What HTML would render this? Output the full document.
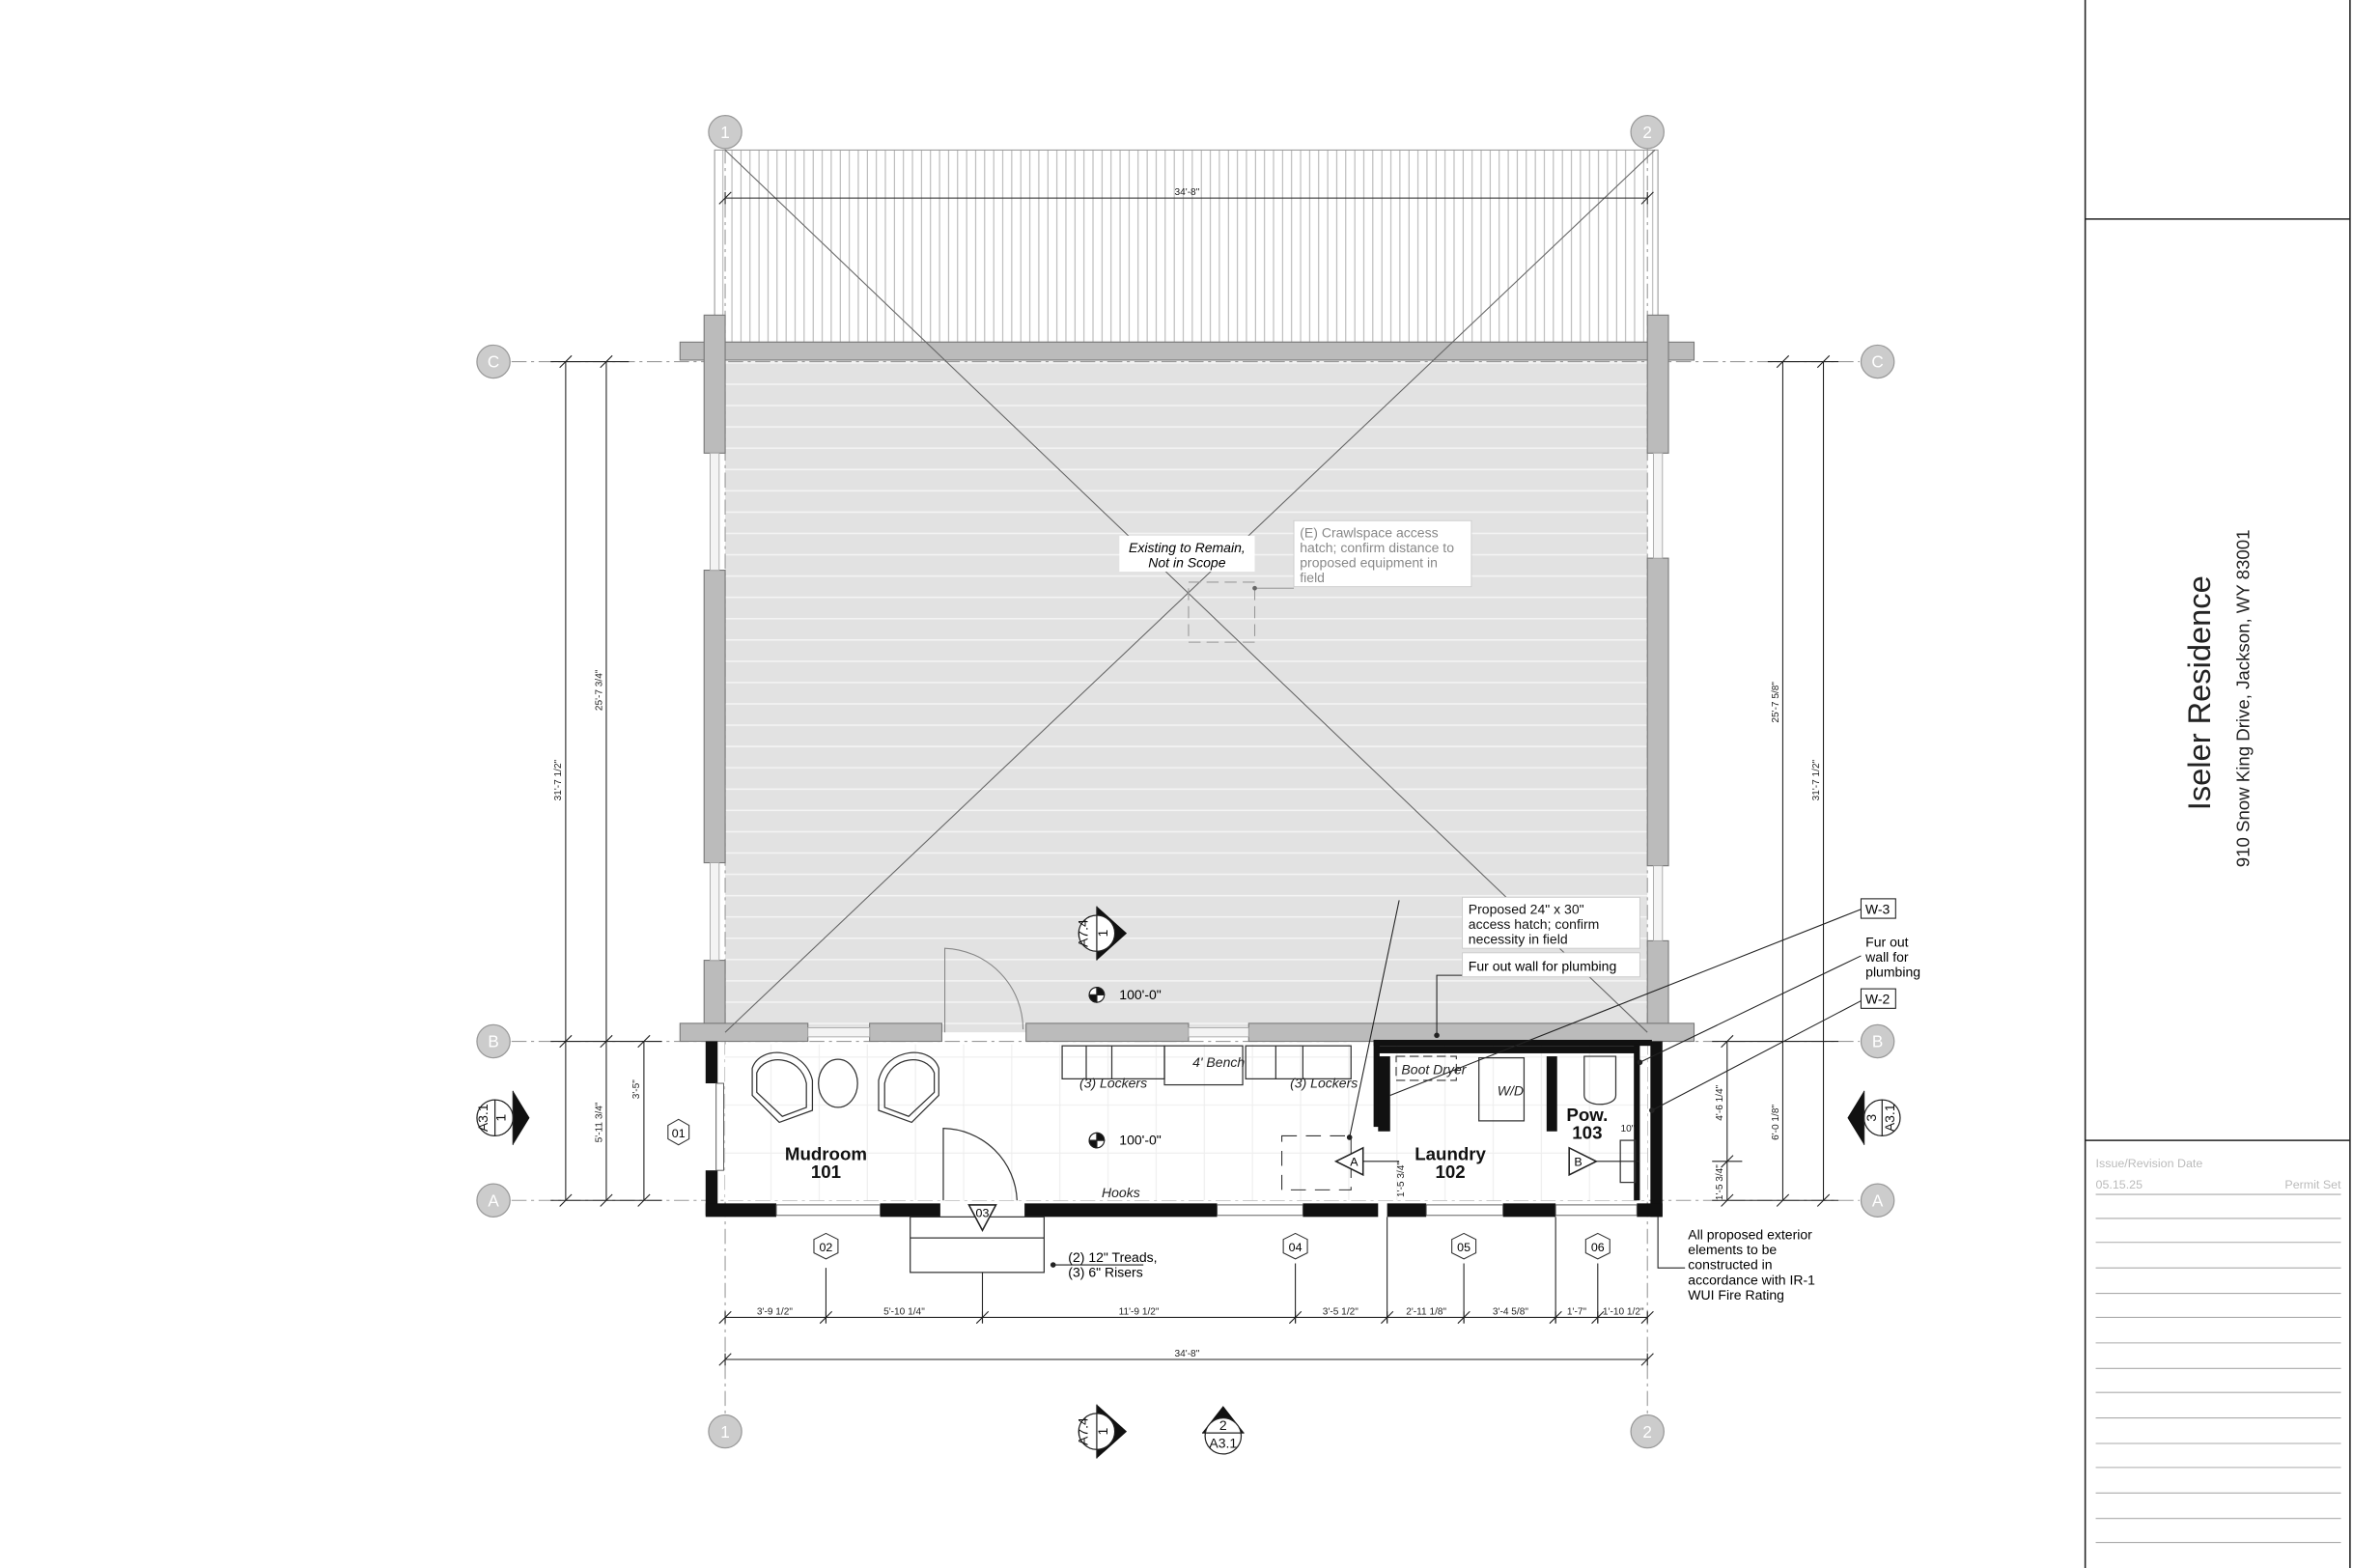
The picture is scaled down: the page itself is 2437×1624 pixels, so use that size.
<!DOCTYPE html>
<html><head><meta charset="utf-8"><style>
html,body{margin:0;padding:0;background:#fff;}
svg{display:block;}
text{font-family:"Liberation Sans",sans-serif;}
</style></head><body>
<svg width="2437" height="1624" viewBox="0 0 1564 1045" preserveAspectRatio="none" xmlns="http://www.w3.org/2000/svg">
<defs>
<pattern id="vh" width="6" height="10" patternUnits="userSpaceOnUse"><line x1="0.5" y1="0" x2="0.5" y2="10" stroke="#aaa" stroke-width="0.6"/></pattern>
<pattern id="hh" width="10" height="14.2" patternUnits="userSpaceOnUse"><rect width="10" height="14.2" fill="#e2e2e2"/><line x1="0" y1="0.5" x2="10" y2="0.5" stroke="#f4f4f4" stroke-width="1"/></pattern>
<pattern id="tile" width="32" height="32" patternUnits="userSpaceOnUse"><rect width="32" height="32" fill="#fff"/><path d="M0 .5H32M.5 0V32" stroke="#eee" stroke-width="0.7"/></pattern>
</defs>
<rect width="1564" height="1045" fill="#fff"/>
<!-- title block -->
<line x1="1386" y1="0" x2="1386" y2="1045" stroke="#222" stroke-width="1"/>
<line x1="1562" y1="0" x2="1562" y2="1045" stroke="#222" stroke-width="1"/>
<line x1="1386" y1="146" x2="1562" y2="146" stroke="#222" stroke-width="1"/>
<line x1="1386" y1="760" x2="1562" y2="760" stroke="#222" stroke-width="1"/>
<text transform="translate(1469,540) rotate(-90)" font-size="21" fill="#222">Iseler Residence</text>
<text transform="translate(1495,578) rotate(-90)" font-size="12" fill="#222">910 Snow King Drive, Jackson, WY 83001</text>
<text x="1393" y="778" font-size="8" fill="#bbb">Issue/Revision Date</text>
<text x="1393" y="792" font-size="8" fill="#bbb">05.15.25</text>
<text x="1556" y="792" font-size="8" fill="#bbb" text-anchor="end">Permit Set</text>
<g stroke="#aaa" stroke-width="0.7">
<line x1="1393" y1="796" x2="1556" y2="796"/><line x1="1393" y1="812" x2="1556" y2="812"/><line x1="1393" y1="828" x2="1556" y2="828"/><line x1="1393" y1="845" x2="1556" y2="845"/><line x1="1393" y1="862" x2="1556" y2="862"/><line x1="1393" y1="878" x2="1556" y2="878"/><line x1="1393" y1="895" x2="1556" y2="895"/><line x1="1393" y1="912" x2="1556" y2="912"/><line x1="1393" y1="928" x2="1556" y2="928"/><line x1="1393" y1="945" x2="1556" y2="945"/><line x1="1393" y1="962" x2="1556" y2="962"/><line x1="1393" y1="978" x2="1556" y2="978"/><line x1="1393" y1="995" x2="1556" y2="995"/><line x1="1393" y1="1012" x2="1556" y2="1012"/><line x1="1393" y1="1028" x2="1556" y2="1028"/>
</g>

<!-- deck -->
<rect x="475" y="100" width="627" height="128" fill="url(#vh)" stroke="#999" stroke-width="0.7"/>
<!-- existing house -->
<rect x="482" y="241" width="613" height="447" fill="url(#hh)"/>
<!-- grid lines -->
<g stroke="#999" stroke-width="0.7" stroke-dasharray="10,3,2,3">
<line x1="482" y1="99" x2="482" y2="942"/><line x1="1095" y1="99" x2="1095" y2="942"/>
<line x1="340" y1="241" x2="1236" y2="241"/><line x1="340" y1="694" x2="1236" y2="694"/><line x1="340" y1="800" x2="1236" y2="800"/>
</g>
<!-- walls existing -->
<g fill="#bbb" stroke="#777" stroke-width="0.7">
<rect x="452" y="228" width="674" height="12"/>
<rect x="468" y="210" width="14" height="92"/><rect x="1095" y="210" width="14" height="92"/>
<rect x="468" y="380" width="14" height="195"/><rect x="1095" y="372" width="14" height="205"/>
<rect x="468" y="640" width="14" height="50"/><rect x="1095" y="627" width="14" height="63"/>
<rect x="452" y="682" width="85" height="12"/><rect x="578" y="682" width="48" height="12"/>
<rect x="682" y="682" width="108" height="12"/><rect x="830" y="682" width="296" height="12"/>
</g>
<g fill="#f3f3f3" stroke="#aaa" stroke-width="0.6">
<rect x="472" y="302" width="6" height="78"/><rect x="1099" y="302" width="6" height="70"/>
<rect x="472" y="575" width="6" height="65"/><rect x="1099" y="577" width="6" height="50"/>
<rect x="537" y="685" width="41" height="6"/><rect x="790" y="685" width="40" height="6"/>
</g>
<!-- diagonals -->
<g stroke="#666" stroke-width="0.7">
<line x1="482" y1="100" x2="1095" y2="688"/><line x1="1100" y1="100" x2="482" y2="688"/>
</g>
<!-- door in existing -->
<path d="M628 688V632A54 54 0 0 1 680 686" fill="none" stroke="#888" stroke-width="0.7"/>
<!-- crawlspace hatch -->
<rect x="790" y="388" width="44" height="40" fill="none" stroke="#999" stroke-width="0.7" stroke-dasharray="8,4"/>
<line x1="834" y1="392" x2="860" y2="392" stroke="#888" stroke-width="0.6"/>
<circle cx="834" cy="392" r="1.5" fill="#666"/>
<rect x="744" y="357" width="90" height="24" fill="#fff"/>
<text x="789" y="368" font-size="9" font-style="italic" text-anchor="middle">Existing to Remain,</text>
<text x="789" y="378" font-size="9" font-style="italic" text-anchor="middle">Not in Scope</text>
<rect x="860" y="347" width="118" height="44" fill="#fff" stroke="#ccc" stroke-width="0.6"/>
<g font-size="9" fill="#888"><text x="864" y="358">(E) Crawlspace access</text><text x="864" y="368">hatch; confirm distance to</text><text x="864" y="378">proposed equipment in</text><text x="864" y="388">field</text></g>

<!-- grid bubbles -->
<g fill="#ccc" stroke="#999" stroke-width="0.8">
<circle cx="482" cy="88" r="11"/><circle cx="1095" cy="88" r="11"/><circle cx="482" cy="954" r="11"/><circle cx="1095" cy="954" r="11"/>
<circle cx="328" cy="241" r="11"/><circle cx="328" cy="694" r="11"/><circle cx="328" cy="800" r="11"/>
<circle cx="1248" cy="241" r="11"/><circle cx="1248" cy="694" r="11"/><circle cx="1248" cy="800" r="11"/>
</g>
<g font-size="11" fill="#fff" text-anchor="middle">
<text x="482" y="92">1</text><text x="1095" y="92">2</text><text x="482" y="958">1</text><text x="1095" y="958">2</text>
<text x="328" y="245">C</text><text x="328" y="698">B</text><text x="328" y="804">A</text>
<text x="1248" y="245">C</text><text x="1248" y="698">B</text><text x="1248" y="804">A</text>
</g>

<!-- addition floor -->
<rect x="482" y="696" width="613" height="104" fill="url(#tile)"/>
<!-- addition walls -->
<g fill="#111">
<rect x="469" y="694" width="8" height="28"/><rect x="469" y="780" width="8" height="30"/>
<rect x="469" y="802" width="47" height="9"/><rect x="585" y="802" width="40" height="9"/>
<rect x="681" y="802" width="128" height="9"/><rect x="866" y="802" width="50" height="9"/>
<rect x="922" y="802" width="26" height="9"/><rect x="999" y="802" width="35" height="9"/>
<rect x="1097" y="694" width="8" height="117"/><rect x="1088" y="802" width="17" height="9"/>
<rect x="913" y="693" width="185" height="4"/><rect x="913" y="693" width="4" height="58"/>
<rect x="1086" y="696" width="4" height="104"/>
<rect x="916" y="704" width="8" height="50"/><rect x="1028" y="704" width="7" height="50"/>
<rect x="916" y="697" width="172" height="5"/>
</g>
<g fill="#fff" stroke="#555" stroke-width="0.6">
<rect x="476" y="722" width="5" height="58"/>
<rect x="516" y="803" width="69" height="7"/><rect x="809" y="803" width="57" height="7"/>
<rect x="948" y="803" width="51" height="7"/><rect x="1034" y="803" width="54" height="7"/>
</g>
<!-- furniture -->
<g fill="none" stroke="#333" stroke-width="0.8">
<path d="M500 712C505 696 535 698 540 720L540 740L518 748L500 730Z"/>
<path d="M503 715C508 702 532 703 536 722L536 738L520 744L503 728Z"/>
<ellipse cx="557" cy="722" rx="13" ry="16"/>
<path d="M624 712C619 696 589 698 584 720L584 740L606 748L624 730Z"/>
<path d="M621 715C616 702 592 703 588 722L588 738L604 744L621 728Z"/>
<rect x="706" y="697" width="68" height="22"/><line x1="722" y1="697" x2="722" y2="719"/><line x1="739" y1="697" x2="739" y2="719"/>
<rect x="774" y="697" width="52" height="26"/>
<rect x="828" y="697" width="70" height="22"/><line x1="848" y1="697" x2="848" y2="719"/><line x1="866" y1="697" x2="866" y2="719"/>
<rect x="983" y="705" width="30" height="42"/>
<path d="M1053 704H1074V730C1074 738 1053 738 1053 730Z"/>
<rect x="1077" y="760" width="10" height="28"/>
<path d="M627 800V752A50 50 0 0 1 676 800"/>
<rect x="605" y="811" width="89" height="37"/><line x1="605" y1="825" x2="694" y2="825"/>
</g>
<rect x="928" y="704" width="40" height="16" fill="none" stroke="#333" stroke-width="0.7" stroke-dasharray="6,3"/>
<rect x="852" y="757" width="46" height="36" fill="none" stroke="#333" stroke-width="0.7" stroke-dasharray="10,6"/>
<g font-size="9" font-style="italic" fill="#222" text-anchor="middle">
<text x="740" y="725">(3) Lockers</text><text x="810" y="711">4' Bench</text><text x="880" y="725">(3) Lockers</text>
<text x="953" y="716">Boot Dryer</text><text x="1004" y="730">W/D</text><text x="745" y="798">Hooks</text>
</g>
<g font-size="12" font-weight="bold" fill="#111" text-anchor="middle">
<text x="549" y="773">Mudroom</text><text x="549" y="785">101</text>
<text x="964" y="773">Laundry</text><text x="964" y="785">102</text>
<text x="1055" y="747">Pow.</text><text x="1055" y="759">103</text>
</g>
<!-- elevation markers -->
<g stroke="#222" stroke-width="0.8">
<circle cx="729" cy="663" r="5" fill="#fff"/><path d="M729 658A5 5 0 0 1 734 663H729Z M729 668A5 5 0 0 1 724 663H729Z" fill="#111"/>
<circle cx="729" cy="760" r="5" fill="#fff"/><path d="M729 755A5 5 0 0 1 734 760H729Z M729 765A5 5 0 0 1 724 760H729Z" fill="#111"/>
</g>
<text x="744" y="666" font-size="9">100'-0"</text><text x="744" y="763" font-size="9">100'-0"</text>
<!-- section markers -->
<g fill="#fff" stroke="#222" stroke-width="1">
<path d="M888 774L906 765V783Z"/><path d="M1061 774L1043 765V783Z"/>
<path d="M644 803H662L653 820Z"/>
</g>
<g font-size="8" text-anchor="middle"><text x="900" y="777">A</text><text x="1049" y="777">B</text><text x="653" y="811">03</text></g>
<line x1="906" y1="774" x2="930" y2="774" stroke="#222" stroke-width="0.7"/>
<line x1="1061" y1="774" x2="1090" y2="774" stroke="#222" stroke-width="0.7"/>
<!-- section bubbles: triangle under circle -->
<g fill="#111">
<path d="M729 604L749 622L729 640Z"/>
<path d="M729 936L749 954L729 972Z"/>
<path d="M341 727L352 745L341 763Z"/>
<path d="M1239 727L1228 745L1239 763Z"/>
<path d="M799 955L813 937L827 955Z"/>
</g>
<g fill="#fff" stroke="#222" stroke-width="0.8">
<circle cx="729" cy="622" r="12"/><circle cx="729" cy="954" r="12"/>
<circle cx="329" cy="745" r="12"/><circle cx="1251" cy="745" r="12"/>
<circle cx="813" cy="957" r="12"/>
</g>
<g stroke="#222" stroke-width="0.8">
<line x1="729" y1="604" x2="729" y2="640"/><line x1="729" y1="936" x2="729" y2="972"/>
<line x1="341" y1="727" x2="341" y2="763"/><line x1="1239" y1="727" x2="1239" y2="763"/>
<line x1="329" y1="733" x2="329" y2="757"/><line x1="1251" y1="733" x2="1251" y2="757"/>
<line x1="799" y1="955" x2="827" y2="955"/>
</g>
<g font-size="9" fill="#111" text-anchor="middle">
<text transform="translate(723,622) rotate(-90)">A7.4</text><text transform="translate(736,622) rotate(-90)">1</text>
<text transform="translate(723,954) rotate(-90)">A7.4</text><text transform="translate(736,954) rotate(-90)">1</text>
<text transform="translate(324,745) rotate(-90)">A3.1</text><text transform="translate(336,745) rotate(-90)">1</text>
<text transform="translate(1259,745) rotate(-90)">A3.1</text><text transform="translate(1247,745) rotate(-90)">3</text>
<text x="813" y="953">2</text><text x="813" y="965">A3.1</text>
</g>
<!-- window hex tags -->
<g fill="#fff" stroke="#333" stroke-width="0.7">
<path d="M451 746l7 4v9l-7 4l-7-4v-9z"/><path d="M549 822l8 4v9l-8 4l-8-4v-9z"/>
<path d="M861 822l8 4v9l-8 4l-8-4v-9z"/><path d="M973 822l8 4v9l-8 4l-8-4v-9z"/><path d="M1062 822l8 4v9l-8 4l-8-4v-9z"/>
</g>
<g font-size="8" text-anchor="middle"><text x="451" y="758">01</text><text x="549" y="834">02</text><text x="861" y="834">04</text><text x="973" y="834">05</text><text x="1062" y="834">06</text></g>
<!-- dimensions -->
<g stroke="#222" stroke-width="0.7">
<line x1="482" y1="132" x2="1095" y2="132"/><line x1="482" y1="906" x2="1095" y2="906"/>
<line x1="482" y1="878" x2="1095" y2="878"/>
<line x1="376" y1="241" x2="376" y2="800"/><line x1="403" y1="241" x2="403" y2="800"/><line x1="428" y1="694" x2="428" y2="800"/>
<line x1="1185" y1="241" x2="1185" y2="800"/><line x1="1212" y1="241" x2="1212" y2="800"/><line x1="1148" y1="694" x2="1148" y2="800"/>
<line x1="366" y1="241" x2="418" y2="241"/><line x1="366" y1="694" x2="440" y2="694"/><line x1="366" y1="800" x2="440" y2="800"/>
<line x1="1138" y1="694" x2="1222" y2="694"/><line x1="1138" y1="800" x2="1222" y2="800"/><line x1="1175" y1="241" x2="1222" y2="241"/><line x1="1138" y1="774" x2="1158" y2="774"/>
<path d="M482 128v8M1095 128v8M482 902v8M1095 902v8M482 874v8M549 874v8M653 874v8M861 874v8M922 874v8M973 874v8M1034 874v8M1062 874v8M1095 874v8"/>
<path d="M549 845v37M653 848v34M861 842v40M922 811v71M973 842v40M1034 811v71M1062 842v40"/>
<path d="M478 136l8-8M1091 136l8-8M478 910l8-8M1091 910l8-8M372 245l8-8M372 698l8-8M372 804l8-8M399 245l8-8M399 698l8-8M399 804l8-8M424 698l8-8M424 804l8-8M1181 245l8-8M1181 804l8-8M1208 245l8-8M1208 804l8-8M1144 698l8-8M1144 804l8-8M1144 778l8-8"/>
<path d="M478 882l8-8M545 882l8-8M649 882l8-8M857 882l8-8M918 882l8-8M969 882l8-8M1030 882l8-8M1058 882l8-8M1091 882l8-8"/>
</g>
<g font-size="6.5" fill="#222" text-anchor="middle">
<text x="789" y="130">34'-8"</text><text x="789" y="904">34'-8"</text>
<text x="515" y="876">3'-9 1/2"</text><text x="601" y="876">5'-10 1/4"</text><text x="757" y="876">11'-9 1/2"</text><text x="891" y="876">3'-5 1/2"</text><text x="948" y="876">2'-11 1/8"</text><text x="1004" y="876">3'-4 5/8"</text><text x="1048" y="876">1'-7"</text><text x="1079" y="876">1'-10 1/2"</text>
<text transform="translate(373,520) rotate(-90)">31'-7 1/2"</text><text transform="translate(400,460) rotate(-90)">25'-7 3/4"</text><text transform="translate(400,748) rotate(-90)">5'-11 3/4"</text><text transform="translate(425,726) rotate(-90)">3'-5"</text>
<text transform="translate(1182,468) rotate(-90)">25'-7 5/8"</text><text transform="translate(1209,520) rotate(-90)">31'-7 1/2"</text><text transform="translate(1182,748) rotate(-90)">6'-0 1/8"</text><text transform="translate(1145,735) rotate(-90)">4'-6 1/4"</text><text transform="translate(1145,788) rotate(-90)">1'-5 3/4"</text><text transform="translate(933,786) rotate(-90)">1'-5 3/4"</text>
<text x="1082" y="754">10"</text>
</g>
<!-- leaders & notes -->
<g stroke="#222" stroke-width="0.7" fill="none">
<path d="M897 758L930 600"/><path d="M955 690V650H972"/>
<path d="M924 730L1237 606"/><path d="M1090 708L1237 637"/><path d="M1098 740L1237 667"/>
<path d="M700 843H760"/><path d="M1102 811V845H1120"/>
</g>
<g fill="#222"><circle cx="897" cy="758" r="1.8"/><circle cx="955" cy="690" r="1.8"/><circle cx="700" cy="843" r="1.8"/><circle cx="1090" cy="708" r="1.8"/><circle cx="1098" cy="740" r="1.8"/></g>
<rect x="972" y="598" width="118" height="34" fill="#fff" stroke="#ccc" stroke-width="0.6"/>
<g font-size="9" fill="#111"><text x="976" y="609">Proposed 24" x 30"</text><text x="976" y="619">access hatch; confirm</text><text x="976" y="629">necessity in field</text></g>
<rect x="972" y="635" width="118" height="16" fill="#fff" stroke="#ccc" stroke-width="0.6"/>
<text x="976" y="647" font-size="9">Fur out wall for plumbing</text>
<rect x="1237" y="599" width="23" height="13" fill="#fff" stroke="#222" stroke-width="0.7"/><text x="1248" y="609" font-size="9" text-anchor="middle">W-3</text>
<rect x="1237" y="659" width="23" height="13" fill="#fff" stroke="#222" stroke-width="0.7"/><text x="1248" y="669" font-size="9" text-anchor="middle">W-2</text>
<g font-size="9"><text x="1240" y="631">Fur out</text><text x="1240" y="641">wall for</text><text x="1240" y="651">plumbing</text></g>
<g font-size="9"><text x="710" y="841">(2) 12" Treads,</text><text x="710" y="851">(3) 6" Risers</text></g>
<g font-size="9"><text x="1122" y="826">All proposed exterior</text><text x="1122" y="836">elements to be</text><text x="1122" y="846">constructed in</text><text x="1122" y="856">accordance with IR-1</text><text x="1122" y="866">WUI Fire Rating</text></g>
</svg>
</body></html>
